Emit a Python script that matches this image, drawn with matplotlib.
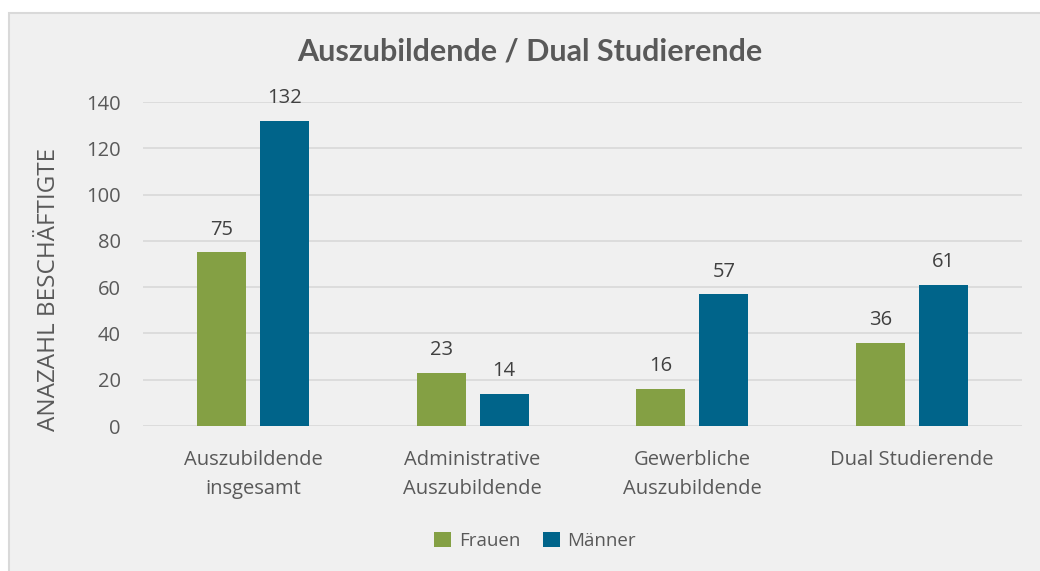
import numpy as np
import matplotlib.pyplot as plt
from matplotlib.patches import Rectangle

# Daten
kategorien = ['Auszubildende\ninsgesamt', 'Administrative\nAuszubildende',
              'Gewerbliche\nAuszubildende', 'Dual Studierende']
frauen = [75, 23, 16, 36]
maenner = [132, 14, 57, 61]

gruen = '#84a044'
blau = '#00648a'
text_farbe = '#595959'

plt.rcParams['font.family'] = ['Open Sans', 'DejaVu Sans']

fig = plt.figure(figsize=(10.4, 5.71), dpi=100)
fig.patch.set_facecolor('white')
# Rahmen / Hintergrund
fig.patches.append(Rectangle((9 / 1040, -0.01), 1.02, 1 - 13 / 571 + 0.01,
                             transform=fig.transFigure, facecolor='#f0f0f0',
                             edgecolor='#d9d9d9', linewidth=1.5, zorder=-1))

ax = fig.add_axes([143 / 1040, 1 - 426 / 571, (1022 - 143) / 1040, (426 - 102) / 571])
ax.set_facecolor('none')

x = np.arange(len(kategorien))
breite = 0.223
versatz = 0.143
b1 = ax.bar(x - versatz, frauen, breite, color=gruen, label='Frauen', zorder=3)
b2 = ax.bar(x + versatz, maenner, breite, color=blau, label='Männer', zorder=3)

for bars in (b1, b2):
    ax.bar_label(bars, padding=9, fontsize=14.5, color='#404040')

ax.set_xlim(-0.5, 3.5)
ax.set_ylim(0, 140)
ax.set_yticks(range(0, 141, 20))
ax.grid(axis='y', color='#d9d9d9', linewidth=1.2, zorder=0)
for s in ax.spines.values():
    s.set_visible(False)
ax.tick_params(axis='both', length=0, labelsize=14.5, colors=text_farbe)
ax.tick_params(axis='x', pad=17)
ax.tick_params(axis='y', pad=16)
ax.set_xticks(x)
ax.set_xticklabels(kategorien, linespacing=1.6)

ax.set_ylabel('ANAZAHL BESCHÄFTIGTE', fontsize=17.5, color=text_farbe)
ax.yaxis.set_label_coords(-0.093, 0.423)

fig.text(530 / 1040, 1 - 51 / 571, 'Auszubildende / Dual Studierende',
         ha='center', va='center', fontsize=22, fontweight='bold',
         color=text_farbe, family=['Lato', 'DejaVu Sans'])

fig.legend(handles=[b1, b2], loc='center', bbox_to_anchor=(535 / 1040, 1 - 541 / 571),
           ncol=2, frameon=False, fontsize=13.5, labelcolor=text_farbe,
           handlelength=0.9, handleheight=0.9, handletextpad=0.4, columnspacing=1.2)

fig.savefig('out.png', dpi=100)
